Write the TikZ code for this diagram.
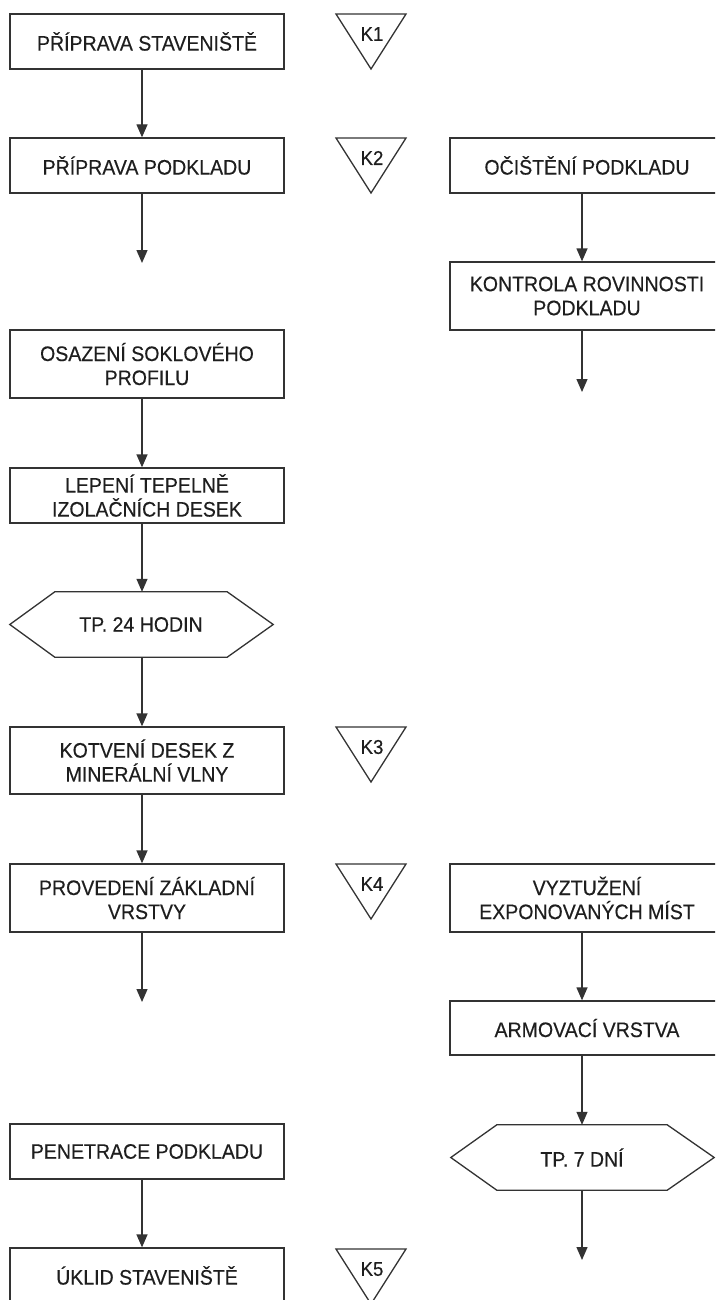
\documentclass[tikz,border=0pt]{standalone}
\usepackage{fontspec}
\setmainfont{Liberation Sans}
\newfontfamily\diagfont[FakeStretch=0.93,FakeBold=0.3]{Liberation Sans}
\usetikzlibrary{arrows.meta}
\definecolor{ink}{HTML}{333333}
\definecolor{txt}{HTML}{1e1e1e}
\tikzset{
  lw/.style={draw=ink, line width=1.3pt},
  stepbox/.style={lw, rectangle, minimum width=274pt, inner sep=0pt, align=center,
     text=txt, font=\diagfont\fontsize{21}{24}\selectfont},
  hexbox/.style={rectangle, inner sep=0pt, align=center, text=txt,
     font=\diagfont\fontsize{21}{24}\selectfont, minimum height=65pt},
  klabel/.style={text=txt, inner sep=0pt, font=\diagfont\fontsize{20}{22}\selectfont},
  arr/.style={lw, -{Triangle[width=11pt,length=13pt]}},
}
\begin{document}
\begin{tikzpicture}[x=1pt,y=-1pt]
\fill[white] (0,0) rectangle (715,1300);
\useasboundingbox (0,0) rectangle (715,1300);
\clip (0,0) rectangle (715,1300);

% left column
\node[stepbox, minimum height=55pt] (b1) at (147,41.5) {PŘÍPRAVA STAVENIŠTĚ};
\node[stepbox, minimum height=55pt] (b2) at (147,165.5) {PŘÍPRAVA PODKLADU};
\coordinate (e1) at (142,263);
\node[stepbox, minimum height=68pt] (b3) at (147,364) {OSAZENÍ SOKLOVÉHO\\PROFILU};
\node[stepbox, minimum height=55pt] (b4) at (147,495.5) {LEPENÍ TEPELNĚ\\IZOLAČNÍCH DESEK};
\node[hexbox, minimum width=172pt] (h1) at (141,624.5) {TP. 24 HODIN};
\node[stepbox, minimum height=67pt] (b5) at (147,760.5) {KOTVENÍ DESEK Z\\MINERÁLNÍ VLNY};
\node[stepbox, minimum height=68pt] (b6) at (147,898) {PROVEDENÍ ZÁKLADNÍ\\VRSTVY};
\coordinate (e3) at (142,1002);
\node[stepbox, minimum height=55pt] (b7) at (147,1151.5) {PENETRACE PODKLADU};
\node[stepbox, minimum height=55pt] (b8) at (147,1275.5) {ÚKLID STAVENIŠTĚ};

% right column
\node[stepbox, minimum height=55pt] (r1) at (587,165.5) {OČIŠTĚNÍ PODKLADU};
\node[stepbox, minimum height=68pt] (r2) at (587,296) {KONTROLA ROVINNOSTI\\PODKLADU};
\coordinate (e2) at (582,392);
\node[stepbox, minimum height=68pt] (r3) at (587,898) {VYZTUŽENÍ\\EXPONOVANÝCH MÍST};
\node[stepbox, minimum height=54pt] (r4) at (587,1028) {ARMOVACÍ VRSTVA};
\node[hexbox, minimum width=170pt] (h2) at (582,1157.5) {TP. 7 DNÍ};
\coordinate (e4) at (582,1260);

% hexagons
\draw[lw] (h1.north west) -- (h1.north east) -- ([xshift=46pt]h1.east) -- (h1.south east)
  -- (h1.south west) -- ([xshift=-45pt]h1.west) -- cycle;
\draw[lw] (h2.north west) -- (h2.north east) -- ([xshift=47pt]h2.east) -- (h2.south east)
  -- (h2.south west) -- ([xshift=-46pt]h2.west) -- cycle;

% check triangles
\foreach \ty/\lab in {14/K1, 138/K2, 727/K3, 864/K4, 1249/K5}{
  \draw[lw, line join=miter] (336,\ty) -- (406,\ty) -- (371,\ty+55) -- cycle;
  \node[klabel] (k\lab) at (372,\ty+20) {\lab};
}

% connectors
\draw[arr] ([xshift=-5pt]b1.south) -- ([xshift=-5pt]b2.north);
\draw[arr] ([xshift=-5pt]b2.south) -- (e1);
\draw[arr] ([xshift=-5pt]b3.south) -- ([xshift=-5pt]b4.north);
\draw[arr] ([xshift=-5pt]b4.south) -- ([xshift=1pt]h1.north);
\draw[arr] ([xshift=1pt]h1.south) -- ([xshift=-5pt]b5.north);
\draw[arr] ([xshift=-5pt]b5.south) -- ([xshift=-5pt]b6.north);
\draw[arr] ([xshift=-5pt]b6.south) -- (e3);
\draw[arr] ([xshift=-5pt]b7.south) -- ([xshift=-5pt]b8.north);

\draw[arr] ([xshift=-5pt]r1.south) -- ([xshift=-5pt]r2.north);
\draw[arr] ([xshift=-5pt]r2.south) -- (e2);
\draw[arr] ([xshift=-5pt]r3.south) -- ([xshift=-5pt]r4.north);
\draw[arr] ([xshift=-5pt]r4.south) -- (h2.north);
\draw[arr] (h2.south) -- (e4);
\end{tikzpicture}
\end{document}
